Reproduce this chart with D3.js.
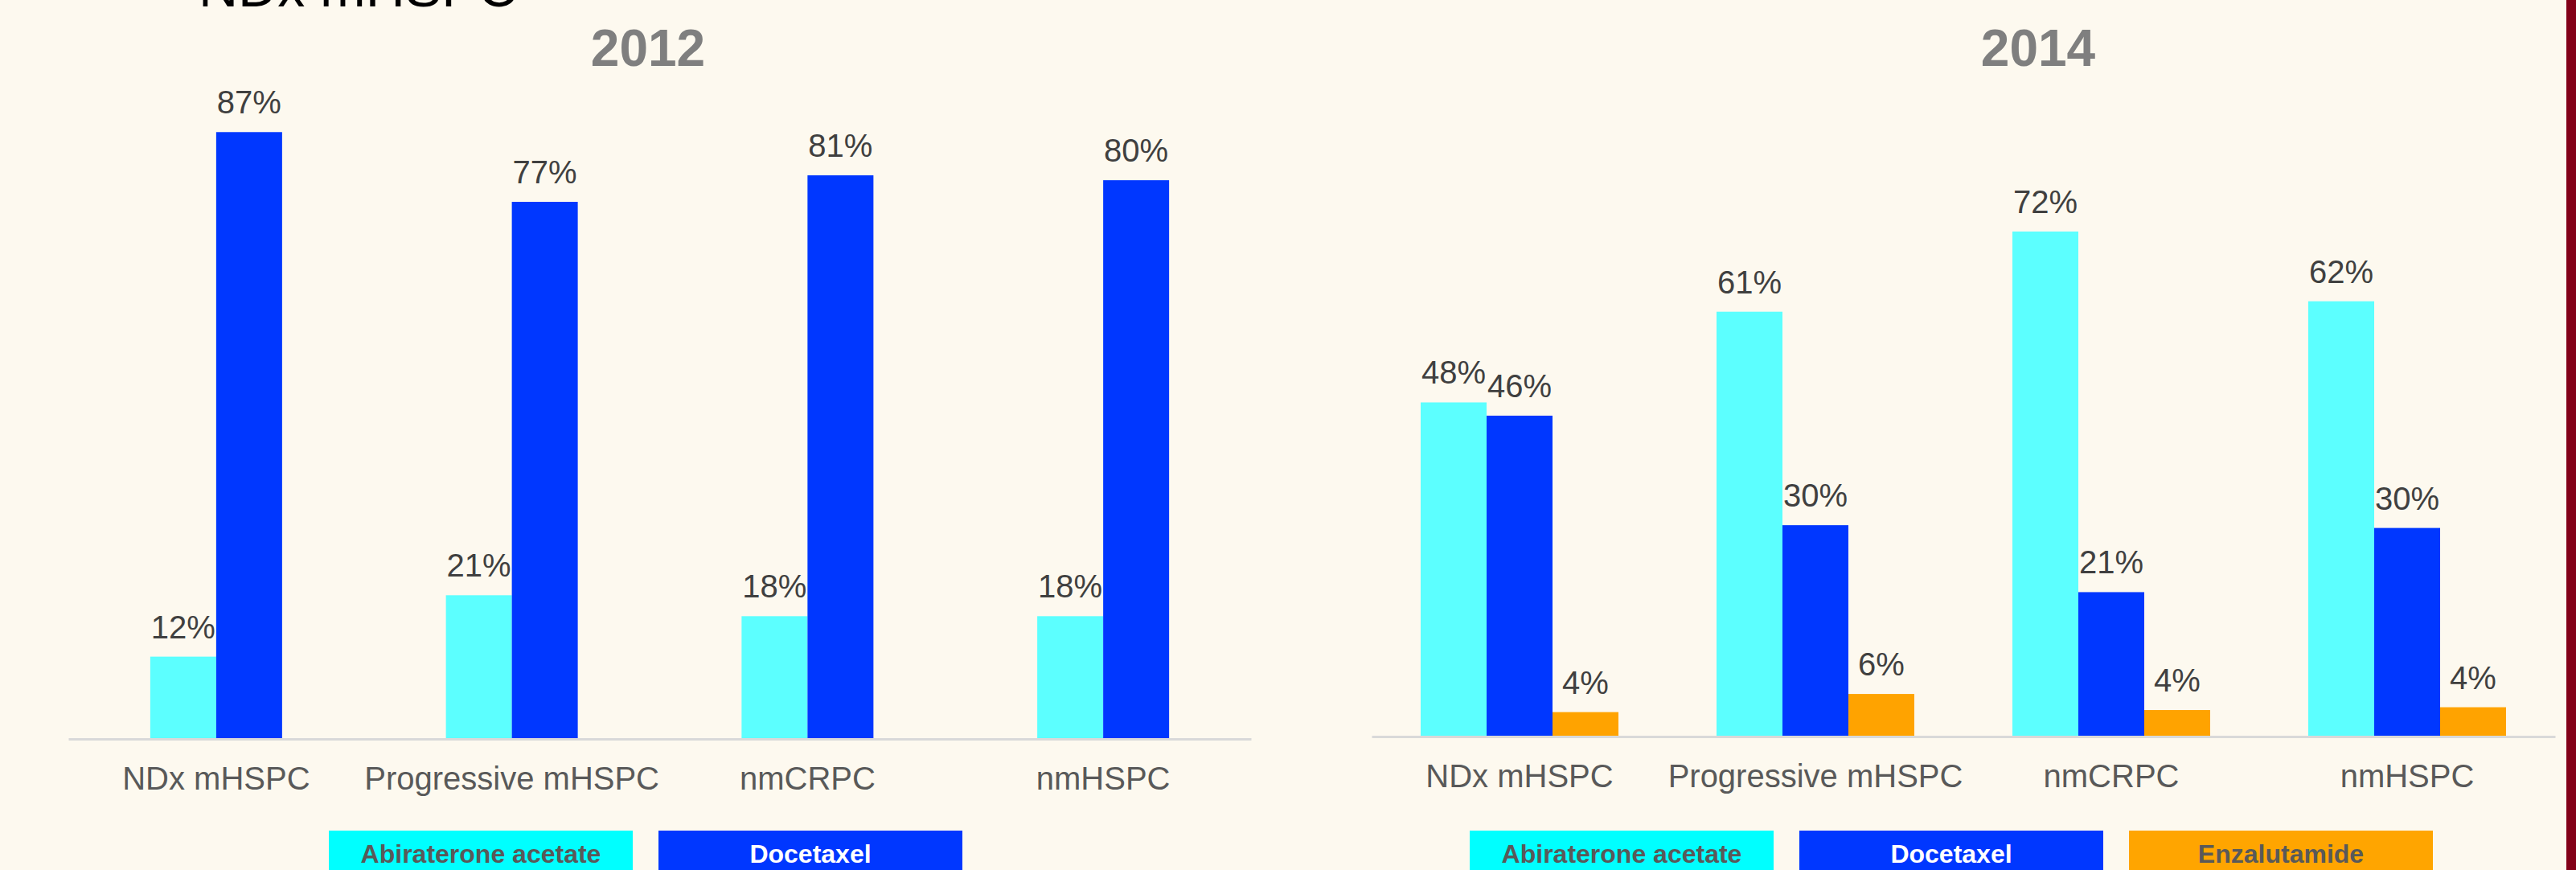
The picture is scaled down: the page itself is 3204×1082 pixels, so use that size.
<!DOCTYPE html>
<html>
<head>
  <meta charset="utf-8">
  <script src="https://cdnjs.cloudflare.com/ajax/libs/d3/7.8.5/d3.min.js"></script>
  <style>
    html, body { margin: 0; padding: 0; background: #fdf9ef; }
    svg { display: block; font-family: "Liberation Sans", Arial, sans-serif; }
    .axis path { stroke: #d9d9d9; stroke-width: 3; }
    .axis text { font-size: 40px; fill: #595959; }
    .val { font-size: 40px; fill: #404040; }
    .title { font-size: 64px; font-weight: bold; fill: #7f7f7f; }
    .leg text { font-size: 32px; font-weight: bold; }
  </style>
</head>
<body>
  <div id="chart"></div>
  <script>
    // categories and series
    var categories = ["NDx mHSPC", "Progressive mHSPC", "nmCRPC", "nmHSPC"];
    var years = ["2012", "2014"];
    var series2012 = ["Abiraterone acetate", "Docetaxel"];
    var series2014 = ["Abiraterone acetate", "Docetaxel", "Enzalutamide"];

    // percent of patients
    var abiraterone2012 = [11.8, 20.6, 17.6, 17.6];
    var docetaxel2012 = [87.0, 77.0, 80.8, 80.1];
    var abiraterone2014 = [47.9, 60.9, 72.4, 62.4];
    var docetaxel2014 = [46.0, 30.3, 20.7, 29.9];
    var enzalutamide2014 = [3.5, 6.1, 3.8, 4.2];

    var barColor = { "Abiraterone acetate": "#5cffff", "Docetaxel": "#0037ff", "Enzalutamide": "#ffa300" };
    var legColor = { "Abiraterone acetate": "#00ffff", "Docetaxel": "#0037ff", "Enzalutamide": "#ffa500" };
    var legText = { "Abiraterone acetate": "#595959", "Docetaxel": "#ffffff", "Enzalutamide": "#595959" };

    var svgWidth = 3204, svgHeight = 1082;
    var barW = 82;

    var svg = d3.select("#chart").append("svg")
      .attr("width", svgWidth)
      .attr("height", svgHeight);

    svg.append("rect").attr("width", svgWidth).attr("height", svgHeight).attr("fill", "#fdf9ef");

    // cut-off heading at the very top
    svg.append("text")
      .attr("x", 247).attr("y", 8)
      .style("font-size", "68px").attr("fill", "#000")
      .text("NDx mHSPC");

    // red edge on the right
    svg.append("rect").attr("x", 3192).attr("y", 0).attr("width", 12).attr("height", svgHeight).attr("fill", "#830018");

    var panels = [
      { year: years[0], series: series2012, values: [abiraterone2012, docetaxel2012],
        x0: 85, x1: 1556, base: 919, titleX: 806, legX: 409 },
      { year: years[1], series: series2014, values: [abiraterone2014, docetaxel2014, enzalutamide2014],
        x0: 1706, x1: 3178, base: 916, titleX: 2535, legX: 1828 }
    ];

    panels.forEach(function(p) {
      var g = svg.append("g");

      var xScale = d3.scaleBand().domain(categories).range([p.x0, p.x1]).padding(0);
      var xSub = d3.scaleBand().domain(p.series).range([0, p.series.length * barW]);
      var yScale = d3.scaleLinear().domain([0, 100]).range([p.base, p.base - 867.5]);

      // title
      g.append("text")
        .attr("class", "title")
        .attr("x", p.titleX).attr("y", 82)
        .attr("text-anchor", "middle")
        .text(p.year);

      // flatten to bar records
      var bars = [];
      p.series.forEach(function(s, i) {
        categories.forEach(function(c, j) {
          bars.push({ series: s, cat: c, value: p.values[i][j] });
        });
      });

      function barX(d) {
        return xScale(d.cat) + xScale.bandwidth() / 2 - p.series.length * barW / 2 + xSub(d.series);
      }

      g.selectAll(".bar")
        .data(bars)
        .enter().append("rect")
        .attr("class", "bar")
        .attr("x", barX)
        .attr("y", function(d) { return yScale(d.value); })
        .attr("width", xSub.bandwidth())
        .attr("height", function(d) { return yScale(0) - yScale(d.value); })
        .attr("fill", function(d) { return barColor[d.series]; });

      g.selectAll(".val")
        .data(bars)
        .enter().append("text")
        .attr("class", "val")
        .attr("x", function(d) { return barX(d) + xSub.bandwidth() / 2; })
        .attr("y", function(d) { return yScale(d.value) - 23; })
        .attr("text-anchor", "middle")
        .text(function(d) { return Math.round(d.value) + "%"; });

      // category axis
      var xAxis = d3.axisBottom(xScale).tickSize(0).tickPadding(35);
      var ax = g.append("g")
        .attr("class", "axis")
        .attr("transform", "translate(0," + p.base + ")")
        .call(xAxis);
      ax.select(".domain").attr("stroke", "#d9d9d9");
      ax.selectAll("text").attr("font-family", null).attr("font-size", null).attr("fill", null);

      // legend boxes under the chart
      var leg = g.selectAll(".leg")
        .data(p.series)
        .enter().append("g")
        .attr("class", "leg")
        .attr("transform", function(d, i) { return "translate(" + (p.legX + i * 410) + ",1033)"; });
      leg.append("rect")
        .attr("width", 378).attr("height", 60)
        .attr("fill", function(d) { return legColor[d]; });
      leg.append("text")
        .attr("x", 189).attr("y", 40)
        .attr("text-anchor", "middle")
        .attr("fill", function(d) { return legText[d]; })
        .text(function(d) { return d; });
    });
  </script>
</body>
</html>
